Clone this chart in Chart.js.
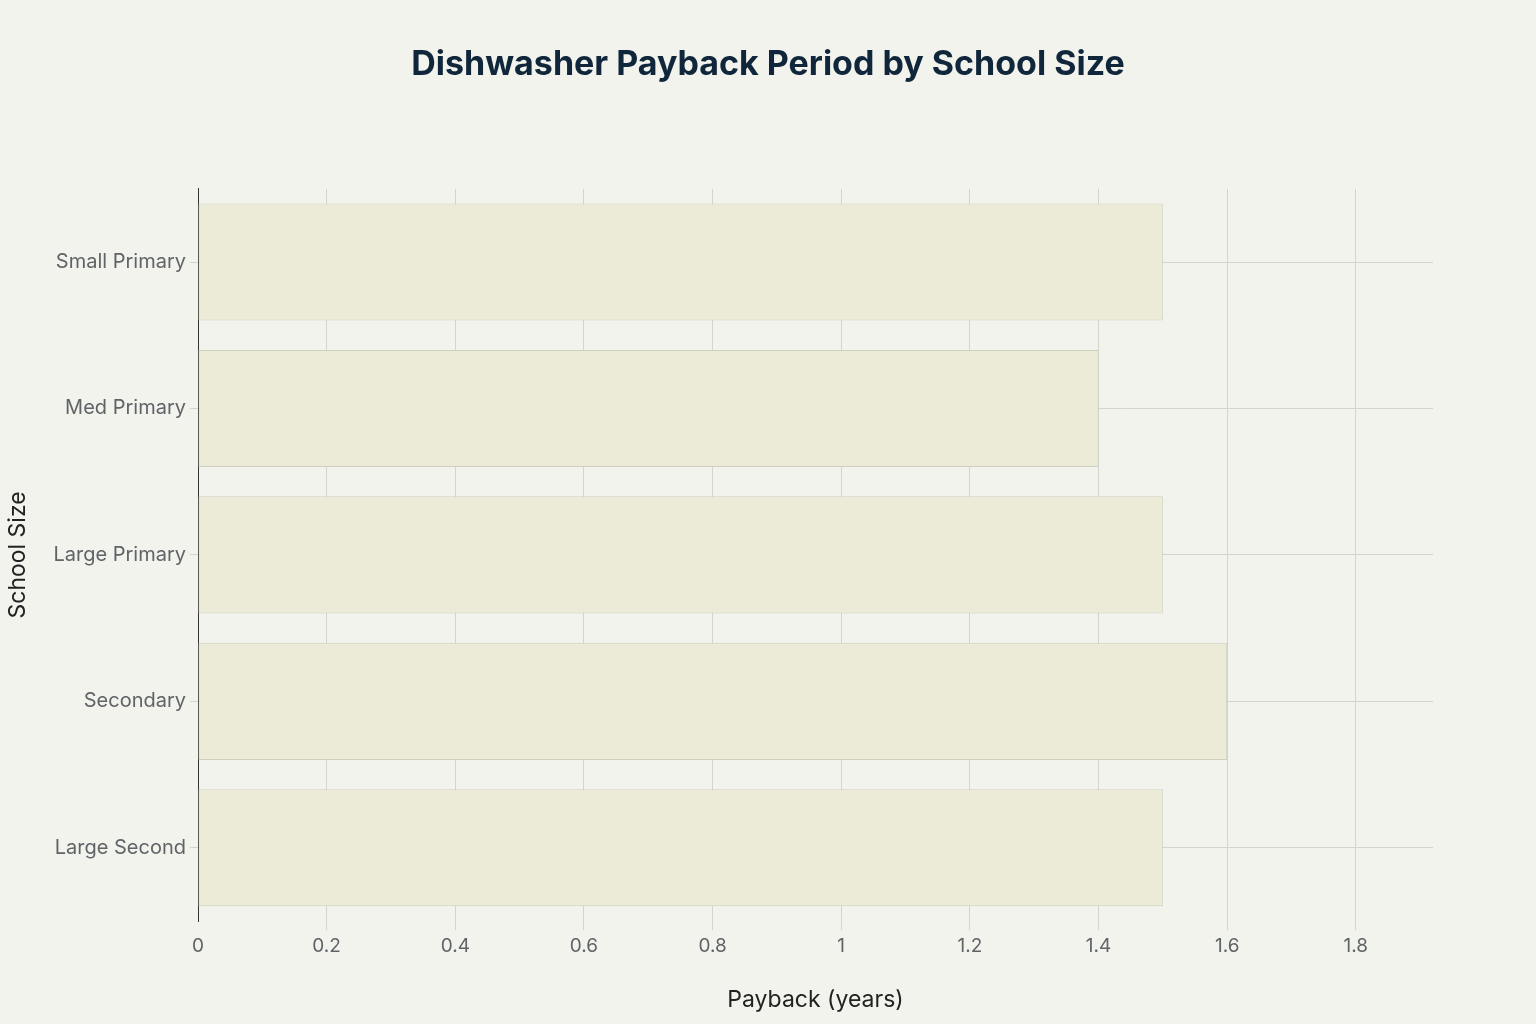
<!DOCTYPE html>
<html>
<head>
<meta charset="utf-8">
<script src="https://cdn.jsdelivr.net/npm/chart.js@4"></script>
<style>
  html, body { margin: 0; padding: 0; background: #f3f3ee; }
  #wrap { width: 1536px; height: 1024px; }
</style>
</head>
<body>
<div id="wrap"><canvas id="chart" width="1536" height="1024"></canvas></div>
<script>
const schoolSizes = ["Small Primary", "Med Primary", "Large Primary", "Secondary", "Large Second"];
const paybackYears = [1.5, 1.4, 1.5, 1.6, 1.5];
const xTicks = [0, 0.2, 0.4, 0.6, 0.8, 1, 1.2, 1.4, 1.6, 1.8];

const gridColor = "#d4d4ce";
const tickColor = "#5f6467";

const ctx = document.getElementById("chart").getContext("2d");

new Chart(ctx, {
    type: "bar",
    data: {
        labels: schoolSizes,
        datasets: [{
            label: "Payback (years)",
            data: paybackYears,
            backgroundColor: "#ecebd8",
            borderColor: "#cfcfc0",
            borderWidth: 1,
            borderSkipped: false,
            barPercentage: 0.8,
            categoryPercentage: 1.0
        }]
    },
    options: {
        indexAxis: "y",
        responsive: false,
        animation: false,
        layout: { padding: 0 },
        plugins: {
            legend: { display: false },
            tooltip: { enabled: false },
            title: {
                display: true,
                text: "Dishwasher Payback Period by School Size",
                color: "#10263a",
                font: { family: "Inter", size: 34, weight: "bold" },
                padding: { top: 44, bottom: 104 }
            }
        },
        scales: {
            x: {
                min: 0,
                max: 1.92,
                afterBuildTicks: scale => {
                    scale.ticks = xTicks.map(v => ({ value: v }));
                },
                afterFit: scale => { scale.height = 103; },
                grid: {
                    color: c => (c.index === 0 ? "rgba(0,0,0,0)" : gridColor),
                    lineWidth: 1,
                    tickLength: 9
                },
                border: { display: false },
                ticks: {
                    color: tickColor,
                    font: { family: "Inter", size: 19 },
                    padding: 5,
                    callback: v => String(Number(v.toFixed(1)))
                },
                title: {
                    display: true,
                    text: "Payback (years)",
                    color: "#222",
                    font: { family: "Inter", size: 23 },
                    padding: { top: 2, bottom: 10 }
                }
            },
            y: {
                afterFit: scale => { scale.width = 198; },
                grid: {
                    offset: false,
                    color: gridColor,
                    lineWidth: 1,
                    tickLength: 8
                },
                border: { display: true, color: "#333", width: 1 },
                ticks: {
                    color: tickColor,
                    font: { family: "Inter", size: 20 },
                    padding: 4
                },
                title: {
                    display: true,
                    text: "School Size",
                    color: "#222",
                    font: { family: "Inter", size: 23 },
                    padding: { bottom: 0 }
                }
            },
            // empty right-hand axis, only keeps the margin so the title stays centred on the page
            yRight: {
                type: "category",
                position: "right",
                afterFit: scale => { scale.width = 103; },
                grid: { display: false },
                border: { display: false },
                ticks: { display: false }
            }
        }
    }
});
</script>
</body>
</html>
